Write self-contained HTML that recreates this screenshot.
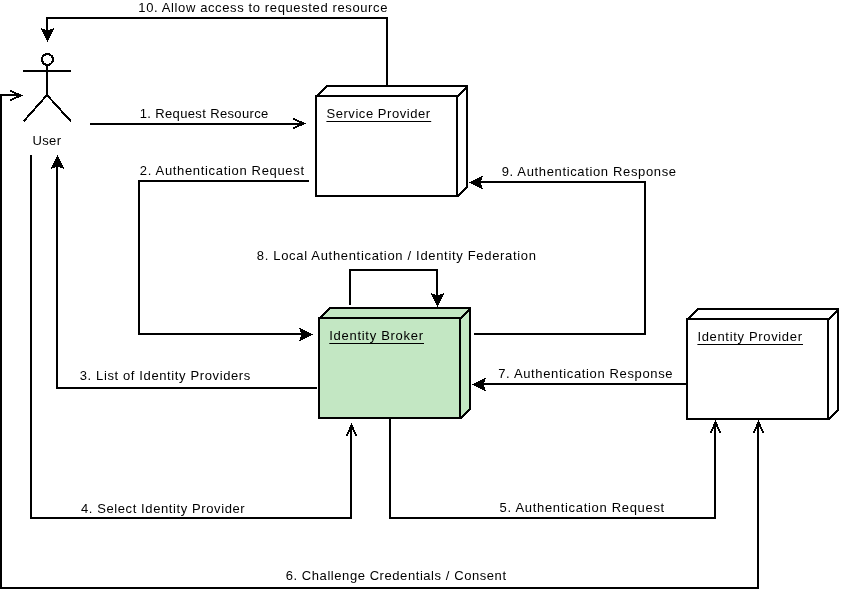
<!DOCTYPE html><html><head><meta charset="utf-8"><style>html,body{margin:0;padding:0;background:#fff;width:841px;height:591px;overflow:hidden}svg{display:block;will-change:transform}text{font-family:"Liberation Sans",sans-serif;font-size:13px;fill:#000}</style></head><body>
<svg width="841" height="591" viewBox="0 0 841 591">
<g shape-rendering="crispEdges">
<path d="M387,86 V18 H47 V33" fill="none" stroke="#000" stroke-width="2"/>
<path d="M90,124 H302" fill="none" stroke="#000" stroke-width="2"/>
<path d="M309,181 H139 V334 H304" fill="none" stroke="#000" stroke-width="2"/>
<path d="M317,388 H57 V165" fill="none" stroke="#000" stroke-width="2"/>
<path d="M31,155 V518 H351 V426" fill="none" stroke="#000" stroke-width="2"/>
<path d="M390,419 V518 H715 V423" fill="none" stroke="#000" stroke-width="2"/>
<path d="M20,95 H1 V588 H758 V423" fill="none" stroke="#000" stroke-width="2"/>
<path d="M687,384 H482" fill="none" stroke="#000" stroke-width="2"/>
<path d="M350,305 V270 H437 V298" fill="none" stroke="#000" stroke-width="2"/>
<path d="M474,334 H645 V182 H478" fill="none" stroke="#000" stroke-width="2"/>
</g>
<g shape-rendering="crispEdges">
<path d="M316,96 L316.6,96 L326.9,86 H467 V186.9 L457.6,196 H316 Z" fill="#fff" stroke="#000" stroke-width="2"/><path d="M316,96 H457 V196 M457,96 L457.8,96 L467.9,86" fill="none" stroke="#000" stroke-width="2"/>
<path d="M319,318 L319.6,318 L329.9,308 H470 V408.9 L460.6,418 H319 Z" fill="#c3e7c3" stroke="#000" stroke-width="2"/><path d="M319,318 H460 V418 M460,318 L460.8,318 L470.9,308" fill="none" stroke="#000" stroke-width="2"/>
<path d="M687,319 L687.6,319 L697.9,309 H838 V409.9 L828.6,419 H687 Z" fill="#fff" stroke="#000" stroke-width="2"/><path d="M687,319 H828 V419 M828,319 L828.8,319 L838.9,309" fill="none" stroke="#000" stroke-width="2"/>
</g>
<g shape-rendering="crispEdges">
<polygon points="47.5,42 40.5,28 47.5,30.5 54.5,28" fill="#000" stroke="none"/>
<polygon points="313,334.5 299,327.5 301.5,334.5 299,341.5" fill="#000" stroke="none"/>
<polygon points="57.5,155 50.5,169 57.5,166.5 64.5,169" fill="#000" stroke="none"/>
<polygon points="437.5,307 430.5,293 437.5,295.5 444.5,293" fill="#000" stroke="none"/>
<polygon points="469,182.5 483,175.5 480.5,182.5 483,189.5" fill="#000" stroke="none"/>
<polygon points="472,384.5 486,377.5 483.5,384.5 486,391.5" fill="#000" stroke="none"/>
<polyline points="293.3,118.8 303.6,123.5 293.3,128.2" fill="none" stroke="#000" stroke-width="2" stroke-linejoin="miter" stroke-miterlimit="10"/>
<polyline points="10.3,90.8 20.6,95.5 10.3,100.2" fill="none" stroke="#000" stroke-width="2" stroke-linejoin="miter" stroke-miterlimit="10"/>
<polyline points="346.8,435.7 351.5,425.4 356.2,435.7" fill="none" stroke="#000" stroke-width="2" stroke-linejoin="miter" stroke-miterlimit="10"/>
<polyline points="710.8,432.7 715.5,422.4 720.2,432.7" fill="none" stroke="#000" stroke-width="2" stroke-linejoin="miter" stroke-miterlimit="10"/>
<polyline points="753.8,432.7 758.5,422.4 763.2,432.7" fill="none" stroke="#000" stroke-width="2" stroke-linejoin="miter" stroke-miterlimit="10"/>
</g>
<g fill="none" stroke="#000" stroke-width="2" shape-rendering="crispEdges">
<circle cx="47.5" cy="59.5" r="5.5"/>
<path d="M47,65 V95 M23,71 H71 M47,95 L23.5,121.5 M47,95 L71,121.5"/>
</g>
<text x="138.3" y="12" textLength="249.1" lengthAdjust="spacing">10. Allow access to requested resource</text>
<text x="32.4" y="145" textLength="28.7" lengthAdjust="spacing">User</text>
<text x="139.7" y="118" textLength="128.6" lengthAdjust="spacing">1. Request Resource</text>
<text x="326.4" y="118" textLength="103.8" lengthAdjust="spacing">Service Provider</text>
<rect x="326.4" y="121" width="104.8" height="1" fill="#000"/>
<text x="139.8" y="175" textLength="164.2" lengthAdjust="spacing">2. Authentication Request</text>
<text x="501.7" y="176" textLength="174.3" lengthAdjust="spacing">9. Authentication Response</text>
<text x="256.8" y="260" textLength="279.2" lengthAdjust="spacing">8. Local Authentication / Identity Federation</text>
<text x="329.3" y="340" textLength="93.7" lengthAdjust="spacing">Identity Broker</text>
<rect x="329.3" y="343" width="94.7" height="1" fill="#000"/>
<text x="697.4" y="341" textLength="104.6" lengthAdjust="spacing">Identity Provider</text>
<rect x="697.4" y="344" width="105.6" height="1" fill="#000"/>
<text x="79.7" y="380" textLength="170.6" lengthAdjust="spacing">3. List of Identity Providers</text>
<text x="498.2" y="378" textLength="174.4" lengthAdjust="spacing">7. Authentication Response</text>
<text x="80.9" y="513" textLength="163.8" lengthAdjust="spacing">4. Select Identity Provider</text>
<text x="499.6" y="512" textLength="164.6" lengthAdjust="spacing">5. Authentication Request</text>
<text x="285.7" y="580" textLength="220.3" lengthAdjust="spacing">6. Challenge Credentials / Consent</text>
</svg></body></html>
